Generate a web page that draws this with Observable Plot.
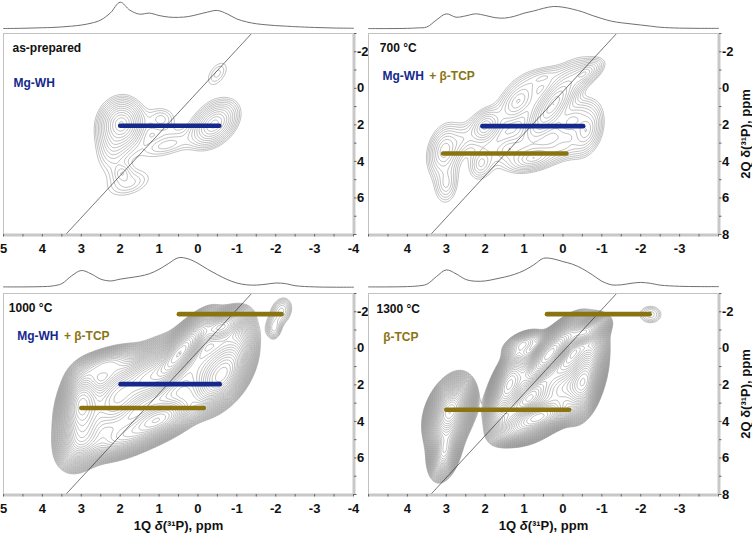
<!DOCTYPE html>
<html><head><meta charset="utf-8">
<script src="https://cdn.jsdelivr.net/npm/d3@7"></script>
<script src="https://cdn.jsdelivr.net/npm/@observablehq/plot@0.6"></script>
<style>
body{margin:0;background:#fff;}
#chart{position:relative;width:752px;height:534px;overflow:hidden;background:#fff;font-family:"Liberation Sans",Arial,sans-serif;}
</style></head><body><div id="chart"></div>
<script>
// ---------- data ----------
// 1D projections (1Q axis), sampled positions in ppm and relative intensities
const projX  = [5,4.5,4,3.75,3.5,3.25,3,2.75,2.5,2.25,2,1.75,1.5,1.25,1,0.75,0.5,0.25,0,-0.25,-0.5,-0.75,-1,-1.25,-1.5,-1.75,-2,-2.25,-2.5,-3,-3.5,-4];
const projTL = [0.01,0.02,0.04,0.05,0.07,0.1,0.14,0.21,0.33,0.6,1.0,0.7,0.55,0.59,0.5,0.44,0.43,0.46,0.54,0.63,0.69,0.56,0.37,0.26,0.19,0.15,0.12,0.1,0.08,0.05,0.03,0.02];
const projTR = [0.01,0.01,0.02,0.04,0.08,0.4,0.67,0.52,0.58,0.67,0.6,0.5,0.48,0.56,0.7,0.8,0.92,1.0,0.97,0.88,0.76,0.6,0.46,0.34,0.27,0.22,0.17,0.12,0.07,0.03,0.02,0.02];
const projBL = [0.01,0.01,0.02,0.04,0.12,0.38,0.56,0.45,0.27,0.21,0.27,0.32,0.37,0.45,0.6,0.8,0.99,0.95,0.8,0.6,0.42,0.26,0.14,0.08,0.07,0.1,0.14,0.12,0.05,0.01,0,0];
const projBR = [0.01,0.01,0.02,0.04,0.1,0.36,0.58,0.45,0.26,0.2,0.21,0.27,0.34,0.43,0.56,0.75,0.97,0.95,0.86,0.77,0.62,0.42,0.2,0.08,0.08,0.13,0.16,0.13,0.07,0.03,0.02,0.02];

// 2D correlation peaks: [1Q centre, 2Q centre, width 1Q, width 2Q, correlation, amplitude, shape exponent]
const peaksTL = [
  [1.97, 1.95, 0.21, 0.5, 0.05, 1.0, 0.75],
  [2.15, 2.9, 0.23, 0.85, 0.25, 0.18, 0.75],
  [1.95, 4.65, 0.13, 0.28, 0.0, 0.1, 0.75],
  [1.75, 5.2, 0.38, 0.5, 0.4, 0.09, 0.75],
  [0.8, 3.1, 0.43, 0.43, 0.5, 0.1, 0.75],
  [0.95, 1.7, 0.24, 0.43, 0.0, 0.1, 0.75],
  [-0.42, 1.95, 0.24, 0.5, 0.4, 0.72, 0.75],
  [-0.5, -0.8, 0.22, 0.55, 0.5, 0.075, 0.75]
];
const peaksTR = [
  [3.05, 3.4, 0.19, 0.62, 0.25, 0.35, 0.75],
  [3.0, 5.2, 0.16, 0.6, 0.1, 0.15, 0.75],
  [2.6, 2.8, 0.25, 0.5, 0.4, 0.1, 0.75],
  [2.0, 2.1, 0.18, 0.42, 0.3, 0.4, 0.75],
  [2.1, 4.1, 0.17, 0.5, 0.2, 0.15, 0.75],
  [1.15, 0.7, 0.26, 0.6, 0.5, 0.3, 0.75],
  [0.25, 0.9, 0.28, 0.8, 0.75, 1.0, 0.75],
  [0.5, -0.6, 0.3, 0.35, 0.5, 0.12, 0.75],
  [-0.55, -0.8, 0.22, 0.36, 0.6, 0.35, 0.75],
  [0.75, 3.8, 0.3, 0.35, 0.4, 0.35, 0.75],
  [-0.6, 2.3, 0.19, 0.6, 0.3, 0.35, 0.75],
  [0.0, 3.2, 0.28, 0.38, 0.3, 0.15, 0.75],
  [1.4, 3.3, 0.28, 0.48, 0.3, 0.12, 0.75],
  [-0.2, 1.8, 0.25, 0.5, 0.5, 0.3, 0.75]
];
const peaksBL = [
  [3.0, 3.0, 0.25, 0.9, 0.2, 0.4, 1],
  [3.0, 5.0, 0.3, 0.8, 0.3, 0.2, 1],
  [0.45, 0.2, 0.35, 0.9, 0.8, 0.9, 1],
  [1.3, 1.5, 0.35, 0.8, 0.5, 0.35, 1],
  [1.0, 3.9, 0.45, 0.6, 0.5, 0.35, 1],
  [2.1, 2.7, 0.35, 1.0, 0.4, 0.3, 1],
  [-0.6, 1.6, 0.35, 0.9, 0.5, 0.35, 1],
  [1.9, 4.9, 0.5, 0.6, 0.5, 0.2, 1],
  [-0.6, -1.2, 0.3, 0.45, 0.5, 0.3, 1],
  [2.4, 0.9, 0.4, 0.5, 0.5, 0.15, 1],
  [2.9, 3.6, 0.4, 1.3, 0.3, 0.15, 1],
  [1.9, 2.8, 0.45, 1.3, 0.4, 0.15, 1],
  [0.9, 1.9, 0.45, 1.3, 0.4, 0.15, 1],
  [-0.1, 1.0, 0.45, 1.3, 0.4, 0.15, 1],
  [-0.9, 0.1, 0.35, 1.2, 0.3, 0.12, 1],
  [-2.15, -2.05, 0.22, 0.6, 0.2, 0.04, 1],
  [-1.95, -1.0, 0.14, 0.45, 0.0, 0.032, 1]
];
const peaksBR = [
  [2.9, 3.4, 0.28, 0.8, 0.35, 0.5, 1],
  [3.05, 5.7, 0.18, 0.7, 0.3, 0.2, 1],
  [2.95, 4.3, 0.3, 1.4, 0.4, 0.1, 1],
  [0.35, 0.3, 0.35, 0.85, 0.8, 0.9, 1],
  [0.65, 3.8, 0.45, 0.5, 0.5, 0.45, 1],
  [1.1, 4.6, 0.35, 0.4, 0.3, 0.12, 1],
  [1.4, 1.9, 0.25, 0.9, 0.6, 0.35, 1],
  [-0.55, 2.0, 0.22, 0.9, 0.4, 0.3, 1],
  [-0.55, -0.9, 0.28, 0.4, 0.5, 0.35, 1],
  [1.3, 2.6, 0.33, 1.2, 0.5, 0.15, 1],
  [0.3, 1.8, 0.4, 1.3, 0.6, 0.15, 1],
  [-0.6, 0.8, 0.3, 1.3, 0.4, 0.15, 1],
  [-0.1, 2.2, 0.35, 0.7, 0.5, 0.2, 1],
  [1.0, -0.3, 0.3, 0.4, 0.5, 0.1, 1],
  [-2.25, -1.85, 0.3, 0.5, 0.0, 0.03, 1]
];
// contour levels: [lowest level, multiplier, number of levels]
const levelsTL = [0.04, 1.28, 14];
const levelsTR = [0.04, 1.28, 14];
const levelsBL = [0.02, 1.1, 42];
const levelsBR = [0.02, 1.09, 48];

// assignment bars
const barsTL = [{phase: "Mg-WH", x1: 2.0, x2: -0.55, y: 2.05}];
const barsTR = [{phase: "Mg-WH", x1: 2.07, x2: -0.52, y: 2.07}, {phase: "β-TCP", x1: 3.08, x2: -0.09, y: 3.57}];
const barsBL = [{phase: "β-TCP", x1: 0.49, x2: -2.15, y: -1.87}, {phase: "Mg-WH", x1: 1.99, x2: -0.56, y: 1.96}, {phase: "β-TCP", x1: 3.0, x2: -0.15, y: 3.27}];
const barsBR = [{phase: "β-TCP", x1: 0.41, x2: -2.23, y: -1.87}, {phase: "β-TCP", x1: 3.0, x2: -0.16, y: 3.36}];

// diagonal reference line
const diagonal = [{x: 3.4, y: 8}, {x: -1.38, y: -3}];

// texts and ticks
const titles = ["as-prepared", "700 °C", "1000 °C", "1300 °C"];
const xTicksFull = [5, 4, 3, 2, 1, 0, -1, -2, -3, -4];
const xTicksInner = [4, 3, 2, 1, 0, -1, -2, -3];
const xMinor = [5,4.5,4,3.5,3,2.5,2,1.5,1,0.5,0,-0.5,-1,-1.5,-2,-2.5,-3,-3.5,-4];
const yTicksShort = [-2, 0, 2, 4, 6];
const yTicksFull = [-2, 0, 2, 4, 6, 8];
const yMinor = [-3,-2,-1,0,1,2,3,4,5,6,7,8];
const xTitle = "1Q δ(³¹P), ppm";
const yTitle = "2Q δ(³¹P), ppm";

// ---------- drawing ----------
const FONT = "'Liberation Sans', Arial, Helvetica, sans-serif";
const BLUE = "#15288c", OLIVE = "#8a7412", CONTOUR = "#8e8e8e";
const phaseColor = {"Mg-WH": BLUE, "β-TCP": OLIVE};

function makeField(peaks) {
  const P = peaks.map(([cx, cy, sx, sy, r, a, e]) => ({cx, cy, sx, sy, r, a, e, k: 0.5 / (1 - r * r)}));
  return (x, y) => {
    let s = 0;
    for (const p of P) {
      const u = (x - p.cx) / p.sx, v = (y - p.cy) / p.sy;
      const q = p.k * (u * u - 2 * p.r * u * v + v * v);
      s += p.a * Math.exp(-(p.e === 1 ? q : Math.pow(q, p.e)));
    }
    return s;
  };
}

const panels = [
  {left: 0,   top: 29,  w: 376, mr: 23, mb: 28, projTop: 0,   projH: 30, projRange: [28.3, 1.7],
   proj: projTL, peaks: peaksTL, levels: levelsTL, bars: barsTL, title: titles[0], tdx: 9, tdy: 15,
   phases: [{t: "Mg-WH", c: BLUE, dx: 10, dy: 50}], xTicks: xTicksFull, yTicks: yTicksShort, yT: false, xT: false},
  {left: 365, top: 29,  w: 387, mr: 34, mb: 28, projTop: 0,   projH: 30, projRange: [28.3, 6],
   proj: projTR, peaks: peaksTR, levels: levelsTR, bars: barsTR, title: titles[1], tdx: 11.3, tdy: 14.7,
   phases: [{t: "Mg-WH", c: BLUE, dx: 14, dy: 43}, {t: "+ β-TCP", c: OLIVE, dx: 60.7, dy: 43}], xTicks: xTicksInner, yTicks: yTicksFull, yT: true, xT: false},
  {left: 0,   top: 289, w: 376, mr: 23, mb: 40, projTop: 250, projH: 40, projRange: [36.7, 6.9],
   proj: projBL, peaks: peaksBL, levels: levelsBL, bars: barsBL, title: titles[2], tdx: 5.3, tdy: 14.3,
   phases: [{t: "Mg-WH", c: BLUE, dx: 13.7, dy: 42.7}, {t: "+ β-TCP", c: OLIVE, dx: 60.4, dy: 42.7}], xTicks: xTicksFull, yTicks: yTicksShort, yT: false, xT: true},
  {left: 365, top: 289, w: 387, mr: 34, mb: 40, projTop: 250, projH: 40, projRange: [36.7, 6.9],
   proj: projBR, peaks: peaksBR, levels: levelsBR, bars: barsBR, title: titles[3], tdx: 8, tdy: 15.3,
   phases: [{t: "β-TCP", c: OLIVE, dx: 14.7, dy: 44}], xTicks: xTicksInner, yTicks: yTicksFull, yT: true, xT: true}
];

const chart = document.getElementById("chart");

function baseStyle(left, top) {
  return {position: "absolute", left: left + "px", top: top + "px", background: "transparent",
          overflow: "visible", fontFamily: FONT, fontSize: "13px", fontWeight: "bold", color: "#111", maxWidth: "none"};
}

for (const p of panels) {
  const proj = Plot.plot({
    width: p.w, height: p.projH, margin: 0,
    x: {domain: [5, -4], range: [3, 353], axis: null},
    y: {domain: [0, 1], range: p.projRange, axis: null},
    style: baseStyle(p.left, p.projTop),
    marks: [
      Plot.line(projX, {x: d => d, y: (d, i) => p.proj[i], curve: "catmull-rom", stroke: "#707070", strokeWidth: 1})
    ]
  });
  chart.appendChild(proj);

  const field = makeField(p.peaks);
  const th = d3.range(p.levels[2]).map(i => p.levels[0] * Math.pow(p.levels[1], i));
  const H = 4 + 201 + p.mb;
  const marks = [
    Plot.contour({value: field, x1: 5, x2: -4, y1: -3, y2: 8, thresholds: th, stroke: CONTOUR, strokeWidth: 0.55, fill: "none"}),
    Plot.line(diagonal, {x: "x", y: "y", stroke: "#222", strokeWidth: 0.6, strokeDasharray: "1.6,0.6"}),
    Plot.link(p.bars, {x1: "x1", x2: "x2", y1: "y", y2: "y", stroke: d => phaseColor[d.phase], strokeWidth: 4.6, strokeLinecap: "round"}),
    Plot.ruleY([-3], {stroke: "#c2c2c2", strokeWidth: 1}),
    Plot.ruleX([5], {stroke: "#c2c2c2", strokeWidth: 1}),
    Plot.ruleX([-4], {stroke: "#c8c8c8", strokeWidth: 3, dx: 0.5}),
    Plot.ruleY([8], {stroke: "#c8c8c8", strokeWidth: 3, dy: 0.5}),
    Plot.axisX({anchor: "bottom", ticks: xMinor, tickSize: 2.5, tickFormat: () => "", stroke: "#666", label: null}),
    Plot.axisX({anchor: "bottom", ticks: p.xTicks, tickSize: 0, tickPadding: 9.5, tickFormat: d => String(d), label: null,
                fontSize: 13, fontWeight: "bold", fill: "#111"}),
    Plot.axisY({anchor: "right", ticks: yMinor, tickSize: 2.5, tickFormat: () => "", stroke: "#666", label: null}),
    Plot.axisY({anchor: "right", ticks: p.yTicks, tickSize: 0, tickPadding: 3.5, tickFormat: d => String(d), label: null,
                fontSize: 13, fontWeight: "bold", fill: "#111"}),
    Plot.text([p.title], {text: d => d, frameAnchor: "top-left", dx: p.tdx, dy: p.tdy, lineAnchor: "middle",
                          fontSize: 12, fontWeight: "bold", fill: "#111"}),
    ...p.phases.map(ph => Plot.text([ph.t], {text: d => d, frameAnchor: "top-left", dx: ph.dx, dy: ph.dy, lineAnchor: "middle",
                          fontSize: 12, fontWeight: "bold", fill: ph.c}))
  ];
  if (p.yT) marks.push(Plot.text([yTitle], {text: d => d, frameAnchor: "right", rotate: -90, dx: 27, textAnchor: "middle",
                          lineAnchor: "middle", fontSize: 13, fontWeight: "bold", fill: "#111"}));
  if (p.xT) marks.push(Plot.text([xTitle], {text: d => d, frameAnchor: "bottom", dy: 31.7, lineAnchor: "middle",
                          fontSize: 13, fontWeight: "bold", fill: "#111"}));
  const svg = Plot.plot({
    width: p.w, height: H, marginLeft: 3, marginRight: p.mr, marginTop: 4, marginBottom: p.mb,
    x: {domain: [5, -4], range: [3, 353]},
    y: {domain: [-3, 8], range: [4, 205]},
    style: baseStyle(p.left, p.top),
    marks
  });
  svg.querySelectorAll("text").forEach(t => {
    const s = t.textContent;
    if (s === xTitle) {
      const i = s.indexOf("δ");
      t.textContent = "";
      t.appendChild(document.createTextNode(s.slice(0, i)));
      const ts = document.createElementNS("http://www.w3.org/2000/svg", "tspan");
      ts.setAttribute("font-style", "italic");
      ts.textContent = "δ";
      t.appendChild(ts);
      t.appendChild(document.createTextNode(s.slice(i + 1)));
    }
  });
  chart.appendChild(svg);
}
</script></body></html>
